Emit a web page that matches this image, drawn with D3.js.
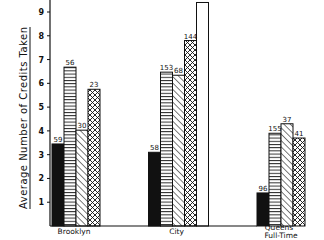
<!DOCTYPE html>
<html>
<head>
<meta charset="utf-8">
<script src="https://cdn.jsdelivr.net/npm/d3@7"></script>
<style>
  html, body { margin: 0; padding: 0; background: #fff; }
  svg { display: block; }
</style>
</head>
<body>
<div id="chart"></div>
<script>
// Categories and series (null = bar not drawn)
const categories = ['Brooklyn', 'City', 'Queens'];
const categoryLines = [['Brooklyn'], ['City'], ['Queens', 'Full-Time']];
const seriesNames = ['solid', 'horizontal', 'diagonal', 'crosshatch', 'open'];
const seriesValues = [
  [3.45, 3.1, 1.39],   // solid black
  [6.68, 6.47, 3.9],   // horizontal stripes
  [4.03, 6.34, 4.3],   // diagonal lines
  [5.75, 7.8, 3.7],    // crosshatch
  [null, 9.4, null]    // open
];
const barLabels = [
  ['59', '58', '96'],
  ['56', '153', '155'],
  ['30', '68', '37'],
  ['23', '144', '41'],
  ['', '', '']
];
const yTicks = [1, 2, 3, 4, 5, 6, 7, 8, 9];

const width = 324, height = 240;
const x0 = 50, yBase = 226;
const barW = 12;
const font = "'DejaVu Sans', sans-serif";

const svg = d3.select('#chart').append('svg')
  .attr('width', width)
  .attr('height', height);

// Patterns
const defs = svg.append('defs');
const pH = defs.append('pattern').attr('id', 'p-horizontal')
  .attr('patternUnits', 'userSpaceOnUse').attr('width', 4).attr('height', 3.2);
pH.append('rect').attr('width', 4).attr('height', 3.2).attr('fill', '#fff');
pH.append('line').attr('x1', 0).attr('x2', 4).attr('y1', 0.5).attr('y2', 0.5)
  .attr('stroke', '#111').attr('stroke-width', 0.9);

const pD = defs.append('pattern').attr('id', 'p-diagonal')
  .attr('patternUnits', 'userSpaceOnUse').attr('width', 4.5).attr('height', 4.5)
  .attr('patternTransform', 'rotate(-45)');
pD.append('rect').attr('width', 4.5).attr('height', 4.5).attr('fill', '#fff');
pD.append('line').attr('x1', 0).attr('x2', 0).attr('y1', 0).attr('y2', 4.5)
  .attr('stroke', '#111').attr('stroke-width', 1.1);

const pX = defs.append('pattern').attr('id', 'p-crosshatch')
  .attr('patternUnits', 'userSpaceOnUse').attr('width', 5).attr('height', 5);
pX.append('rect').attr('width', 5).attr('height', 5).attr('fill', '#fff');
pX.append('path').attr('d', 'M0,0L5,5M5,0L0,5')
  .attr('stroke', '#111').attr('stroke-width', 0.9).attr('fill', 'none');

const fills = {
  solid: '#111',
  horizontal: 'url(#p-horizontal)',
  diagonal: 'url(#p-diagonal)',
  crosshatch: 'url(#p-crosshatch)',
  open: '#fff'
};

// Scales
const y = d3.scaleLinear().domain([0, 9]).range([yBase, 12]);
const xGroup = d3.scalePoint().domain(categories).range([76, 281]);

// Build bars: each group centres its present bars on the group position
const bars = [];
categories.forEach((cat, ci) => {
  const present = seriesNames.map((s, si) => si).filter(si => seriesValues[si][ci] != null);
  const n = present.length;
  present.forEach((si, k) => {
    bars.push({
      cat, series: seriesNames[si],
      value: seriesValues[si][ci],
      label: barLabels[si][ci],
      x: xGroup(cat) - n * barW / 2 + k * barW
    });
  });
});

// Bars
svg.selectAll('rect.bar').data(bars).enter().append('rect')
  .attr('class', 'bar')
  .attr('x', d => d.x)
  .attr('y', d => y(d.value))
  .attr('width', barW)
  .attr('height', d => yBase - y(d.value))
  .attr('fill', d => fills[d.series])
  .attr('stroke', '#111')
  .attr('stroke-width', 1);

// Baseline and axis
svg.append('line')
  .attr('x1', x0).attr('x2', xGroup('Queens') - 24)
  .attr('y1', yBase).attr('y2', yBase)
  .attr('stroke', '#111').attr('stroke-width', 1.2);

svg.append('line')
  .attr('x1', x0).attr('x2', x0)
  .attr('y1', 0).attr('y2', yBase)
  .attr('stroke', '#111').attr('stroke-width', 1.2);

const tickG = svg.append('g');
tickG.selectAll('line').data(yTicks).enter().append('line')
  .attr('x1', x0 - 3).attr('x2', x0)
  .attr('y1', d => y(d)).attr('y2', d => y(d))
  .attr('stroke', '#111').attr('stroke-width', 1);
tickG.selectAll('text').data(yTicks).enter().append('text')
  .attr('x', x0 - 6).attr('y', d => y(d) + 3)
  .attr('text-anchor', 'end')
  .attr('font-family', font).attr('font-size', 8).attr('font-weight', 'bold')
  .attr('fill', '#111')
  .text(d => d);

// Bar labels
svg.selectAll('text.blabel').data(bars.filter(d => d.label)).enter().append('text')
  .attr('class', 'blabel')
  .attr('x', d => d.x + barW / 2)
  .attr('y', d => y(d.value) - 2)
  .attr('text-anchor', 'middle')
  .attr('font-family', font).attr('font-size', 7)
  .attr('fill', '#111')
  .text(d => d.label);

// Category labels
categories.forEach((cat, ci) => {
  const lines = categoryLines[ci];
  const t = svg.append('text')
    .attr('y', lines.length > 1 ? 230 : 234)
    .attr('text-anchor', 'middle')
    .attr('font-family', font).attr('font-size', 7.5)
    .attr('fill', '#111');
  lines.forEach((l, li) => {
    t.append('tspan').attr('x', xGroup(cat) - 2 + li * 2).attr('dy', li ? 7.5 : 0).text(l);
  });
});

// Y axis title, hand-underlined
const titleLen = 182, titleMid = 118;
svg.append('text')
  .attr('transform', `translate(27,${titleMid}) rotate(-90)`)
  .attr('text-anchor', 'middle')
  .attr('font-family', font).attr('font-size', 10)
  .attr('textLength', titleLen).attr('lengthAdjust', 'spacing')
  .attr('fill', '#111')
  .text('Average Number of Credits Taken');
svg.append('line')
  .attr('x1', 30).attr('x2', 30)
  .attr('y1', titleMid - titleLen / 2).attr('y2', titleMid + titleLen / 2)
  .attr('stroke', '#111').attr('stroke-width', 1);
</script>
</body>
</html>
